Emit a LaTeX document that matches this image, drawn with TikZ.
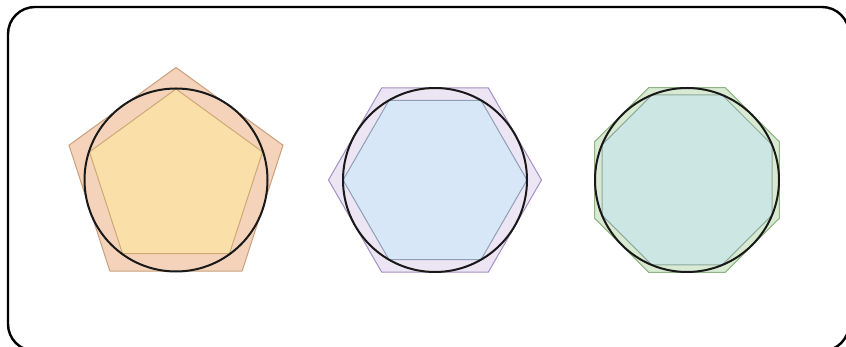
\documentclass[tikz,border=0pt]{standalone}
\usetikzlibrary{calc}
\definecolor{pentOutF}{HTML}{F4D3BA}
\definecolor{pentOutD}{HTML}{C8A07E}
\definecolor{pentInF}{HTML}{FBDFA9}
\definecolor{pentInD}{HTML}{CFA878}
\definecolor{hexOutF}{HTML}{ECE5F3}
\definecolor{hexOutD}{HTML}{A48FC6}
\definecolor{hexInF}{HTML}{D8E7F8}
\definecolor{hexInD}{HTML}{8E9FB6}
\definecolor{octOutF}{HTML}{D8EAD2}
\definecolor{octOutD}{HTML}{8FB582}
\definecolor{octInF}{HTML}{CBE6E3}
\definecolor{octInD}{HTML}{8FA89C}
\tikzset{
  outline/.style={line width=1pt, line join=miter},
  circ/.style={line width=2pt, draw=black!90},
  frame/.style={line width=2.4pt, draw=black, rounded corners=27pt}
}
\begin{document}
\begin{tikzpicture}[x=1pt,y=1pt]
\useasboundingbox (0,0) rectangle (846,347);
\clip (0,0) rectangle (846,347);
\fill[white] (0,0) rectangle (846,347);
\draw[frame] (8,340) rectangle (849,-4);
% pentagon
\begin{scope}[shift={(176,167)}]
  \draw[outline, fill=pentOutF, draw=pentOutD] (90:112.5) \foreach \a in {162,234,306,378} {-- (\a:112.5)} -- cycle;
  \draw[outline, fill=pentInF, draw=pentInD] (90:91) \foreach \a in {162,234,306,378} {-- (\a:91)} -- cycle;
  \draw[circ] (0,0) circle (91.5);
\end{scope}
% hexagon
\begin{scope}[shift={(435,167)}]
  \draw[outline, fill=hexOutF, draw=hexOutD] (0:106.5) \foreach \a in {60,120,...,300} {-- (\a:106.5)} -- cycle;
  \draw[outline, fill=hexInF, draw=hexInD] (0:92) \foreach \a in {60,120,...,300} {-- (\a:92)} -- cycle;
  \draw[circ] (0,0) circle (92);
\end{scope}
% octagon
\begin{scope}[shift={(687,167)}]
  \draw[outline, fill=octOutF, draw=octOutD] (22.5:100) \foreach \a in {67.5,112.5,...,337.5} {-- (\a:100)} -- cycle;
  \draw[outline, fill=octInF, draw=octInD] (22.5:92) \foreach \a in {67.5,112.5,...,337.5} {-- (\a:92)} -- cycle;
  \draw[circ] (0,0) circle (92);
\end{scope}
\end{tikzpicture}
\end{document}
